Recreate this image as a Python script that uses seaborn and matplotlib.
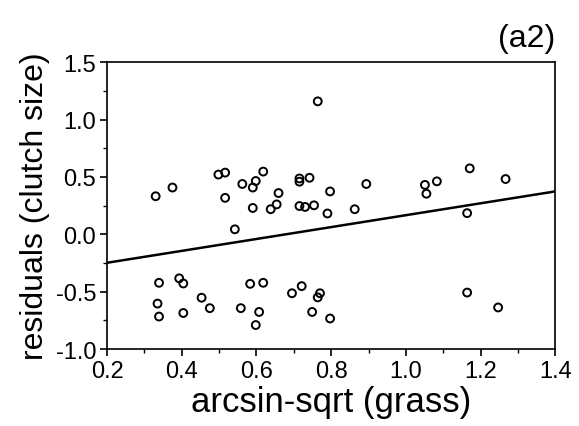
#import
import numpy as np
import matplotlib
matplotlib.use('Agg')
import matplotlib.pyplot as plt
from matplotlib.ticker import MultipleLocator
import seaborn as sns

#data
grass = [0.330, 0.375, 0.498, 0.516, 0.516, 0.542, 0.562, 0.590, 0.598, 0.618,
         0.590, 0.638, 0.654, 0.659, 0.715, 0.715, 0.742, 0.715, 0.730, 0.754,
         0.797, 0.790, 0.764,
         0.339, 0.335, 0.339, 0.393, 0.404, 0.404, 0.453, 0.475, 0.558, 0.583,
         0.618, 0.607, 0.598, 0.695, 0.721, 0.764, 0.770, 0.749, 0.797,
         0.894, 0.863, 1.051, 1.055, 1.083, 1.171, 1.267, 1.164, 1.164, 1.247]
resid = [0.332, 0.408, 0.521, 0.538, 0.318, 0.044, 0.439, 0.408, 0.465, 0.547,
         0.230, 0.219, 0.261, 0.360, 0.459, 0.487, 0.493, 0.247, 0.239, 0.253,
         0.374, 0.182, 1.159,
         -0.422, -0.603, -0.716, -0.383, -0.428, -0.685, -0.552, -0.643, -0.643, -0.431,
         -0.422, -0.676, -0.790, -0.513, -0.451, -0.549, -0.513, -0.676, -0.733,
         0.439, 0.219, 0.431, 0.354, 0.462, 0.575, 0.482, 0.185, -0.507, -0.637]
line_intercept = -0.351
line_slope = 0.518

#style
sns.set_style('white')
plt.rcParams['font.family'] = ['Liberation Sans', 'DejaVu Sans']
plt.rcParams['text.color'] = 'black'
plt.rcParams['axes.labelcolor'] = 'black'

fig = plt.figure(figsize=(5.79, 4.27), dpi=100)
ax = fig.add_axes([0.185, 0.180, 0.774, 0.672])

#scatter
sns.scatterplot(x=grass, y=resid, ax=ax, marker='o', s=32,
                facecolor='none', edgecolor='black', linewidth=1.4)

#fitted line
xlim = (0.2, 1.4)
xs = np.array(xlim)
sns.lineplot(x=xs, y=line_intercept + line_slope * xs, ax=ax,
             color='black', linewidth=1.8)

ax.set_xlim(*xlim)
ax.set_ylim(-1.0, 1.5)
ax.xaxis.set_major_locator(MultipleLocator(0.2))
ax.xaxis.set_minor_locator(MultipleLocator(0.1))
ax.yaxis.set_major_locator(MultipleLocator(0.5))
ax.yaxis.set_minor_locator(MultipleLocator(0.25))
ax.xaxis.set_major_formatter(matplotlib.ticker.FormatStrFormatter('%.1f'))
ax.yaxis.set_major_formatter(matplotlib.ticker.FormatStrFormatter('%.1f'))
ax.tick_params(which='major', direction='out', length=5, width=1.2,
               labelsize=17, left=True, bottom=True, pad=3,
               colors='black', labelcolor='black')
ax.tick_params(which='minor', direction='out', length=3, width=1,
               left=True, bottom=True, colors='black')

for sp in ax.spines.values():
    sp.set_color('black')
    sp.set_linewidth(1.2)

ax.set_xlabel('arcsin-sqrt (grass)', fontsize=25, labelpad=2)
ax.set_ylabel('residuals (clutch size)', fontsize=23, labelpad=4)
ax.set_title('(a2)', loc='right', fontsize=23, pad=12)

fig.savefig('out.png', dpi=100, facecolor='white')
